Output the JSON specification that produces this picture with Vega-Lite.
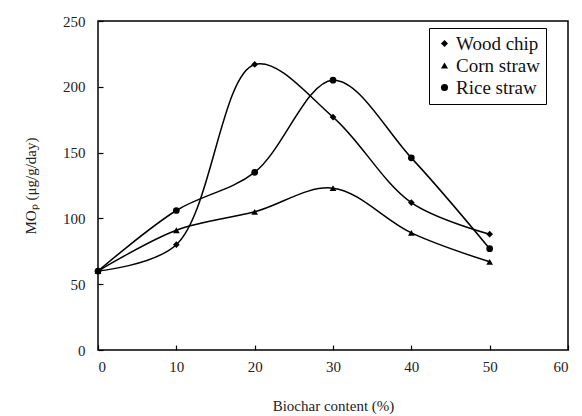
{
  "$schema": "https://vega.github.io/schema/vega-lite/v6.json",
  "width": 470,
  "height": 329,
  "autosize": "none",
  "padding": {"left": 98, "top": 21, "right": 14, "bottom": 66},
  "background": "white",
  "config": {
    "font": "Liberation Serif",
    "view": {"stroke": "black", "strokeWidth": 1.5},
    "axis": {
      "labelFont": "Liberation Serif",
      "titleFont": "Liberation Serif",
      "labelFontSize": 15,
      "titleFontSize": 15,
      "labelColor": "#222",
      "titleColor": "#222",
      "titleFontWeight": "normal",
      "grid": false,
      "domain": false,
      "tickColor": "black",
      "tickSize": -5,
      "tickWidth": 1.2
    }
  },
  "data": {
    "values": [
      {"series": "Wood chip", "x": 0, "y": 60},
      {"series": "Wood chip", "x": 10, "y": 80},
      {"series": "Wood chip", "x": 20, "y": 217},
      {"series": "Wood chip", "x": 30, "y": 177},
      {"series": "Wood chip", "x": 40, "y": 112},
      {"series": "Wood chip", "x": 50, "y": 88},
      {"series": "Corn straw", "x": 0, "y": 60},
      {"series": "Corn straw", "x": 10, "y": 91},
      {"series": "Corn straw", "x": 20, "y": 105},
      {"series": "Corn straw", "x": 30, "y": 123},
      {"series": "Corn straw", "x": 40, "y": 89},
      {"series": "Corn straw", "x": 50, "y": 67},
      {"series": "Rice straw", "x": 0, "y": 60},
      {"series": "Rice straw", "x": 10, "y": 106},
      {"series": "Rice straw", "x": 20, "y": 135},
      {"series": "Rice straw", "x": 30, "y": 205},
      {"series": "Rice straw", "x": 40, "y": 146},
      {"series": "Rice straw", "x": 50, "y": 77}
    ]
  },
  "encoding": {
    "x": {
      "field": "x", "type": "quantitative",
      "scale": {"domain": [0, 60], "nice": false},
      "axis": {"values": [0, 10, 20, 30, 40, 50, 60], "title": "Biochar content (%)", "labelPadding": 14, "titlePadding": 24}
    },
    "y": {
      "field": "y", "type": "quantitative",
      "scale": {"domain": [0, 250], "nice": false},
      "axis": {"values": [0, 50, 100, 150, 200, 250], "title": "MOₚ (μg/g/day)", "labelPadding": 18, "titlePadding": 24}
    }
  },
  "layer": [
    {
      "mark": {"type": "line", "interpolate": "catmull-rom", "color": "black", "strokeWidth": 1.5},
      "encoding": {"detail": {"field": "series"}}
    },
    {
      "mark": {"type": "point", "filled": true, "color": "black", "opacity": 1, "size": 45},
      "encoding": {
        "shape": {
          "field": "series", "type": "nominal",
          "scale": {"domain": ["Wood chip", "Corn straw", "Rice straw"], "range": ["diamond", "triangle-up", "circle"]},
          "legend": {
            "title": null,
            "orient": "none",
            "legendX": 331,
            "legendY": 7,
            "direction": "vertical",
            "strokeColor": "black",
            "padding": 6,
            "fillColor": "white",
            "labelFont": "Times New Roman",
            "labelFontSize": 19,
            "labelColor": "#111",
            "labelOffset": 2,
            "symbolFillColor": "black",
            "symbolStrokeColor": "black",
            "symbolSize": 50,
            "rowPadding": 2,
            "labelLimit": 200
          }
        }
      }
    }
  ]
}
